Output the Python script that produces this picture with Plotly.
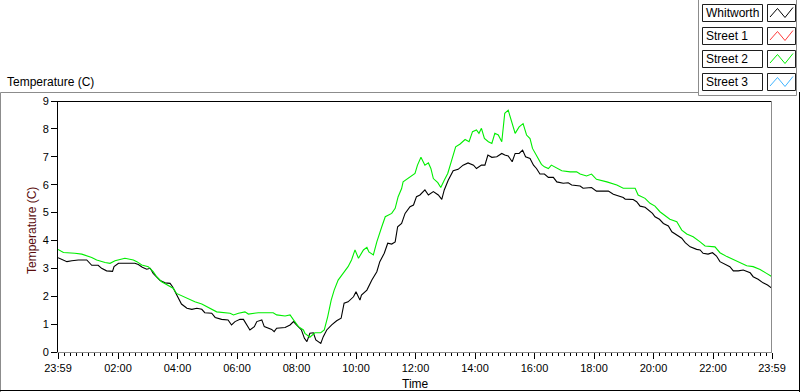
import plotly.graph_objects as go

# ---- data (minutes elapsed since 23:59 of the previous day) ----
whitworth_min = [0,7,18,28,41,58,65,68,81,88,98,110,113,122,139,155,162,170,179,186,192,199,206,216,226,231,236,243,249,260,270,280,290,296,310,317,330,343,350,357,367,374,381,387,396,401,411,416,431,436,441,458,468,475,481,491,497,502,508,515,520,530,535,542,552,562,571,577,585,596,601,609,612,623,633,643,649,658,665,673,680,685,693,700,710,717,723,730,740,747,757,767,774,779,787,797,807,817,827,838,844,854,861,867,875,885,895,901,908,916,922,930,937,943,952,959,965,972,981,989,999,1006,1019,1029,1036,1053,1059,1076,1086,1110,1120,1133,1140,1144,1160,1167,1174,1184,1191,1199,1204,1213,1221,1231,1238,1248,1258,1265,1275,1288,1295,1301,1311,1320,1328,1335,1345,1355,1362,1372,1382,1396,1402,1412,1422,1431,1440]
whitworth_temp = [3.38,3.32,3.24,3.27,3.30,3.30,3.18,3.11,3.11,3.00,2.91,2.89,3.06,3.18,3.18,3.18,3.14,3.04,2.97,3.00,2.82,2.68,2.56,2.48,2.46,2.34,2.16,1.92,1.72,1.57,1.53,1.57,1.53,1.41,1.39,1.24,1.17,1.15,0.97,1.09,1.17,1.17,0.97,0.79,0.91,1.09,1.15,0.91,0.81,0.73,0.85,0.88,0.97,1.09,0.97,0.79,0.49,0.37,0.67,0.69,0.43,0.31,0.55,0.79,0.97,1.12,1.21,1.75,1.80,1.98,2.16,1.86,2.04,2.22,2.58,2.88,3.24,3.54,3.90,3.87,3.95,4.49,4.61,4.97,5.21,5.27,5.57,5.63,5.81,5.63,5.75,5.63,5.47,5.81,6.16,6.50,6.55,6.70,6.78,6.70,6.58,6.70,6.70,7.06,6.98,7.00,7.12,7.06,7.03,6.82,7.12,7.12,7.24,7.00,6.94,6.70,6.58,6.38,6.38,6.26,6.26,6.10,6.05,6.07,5.99,5.95,5.87,5.90,5.77,5.77,5.66,5.57,5.54,5.48,5.47,5.39,5.23,5.19,5.09,4.97,4.85,4.76,4.61,4.52,4.31,4.19,4.08,3.92,3.77,3.68,3.66,3.54,3.51,3.56,3.44,3.24,3.15,3.06,2.91,2.91,2.94,2.84,2.70,2.61,2.48,2.40,2.28]

street2_min = [0,11,34,48,68,78,95,105,115,135,152,159,169,182,192,199,209,222,233,239,249,263,276,290,303,320,347,354,364,377,384,404,434,441,458,468,475,485,495,498,508,518,530,537,544,551,557,565,575,585,592,599,606,616,623,627,636,643,653,660,673,680,686,693,696,706,720,725,732,740,747,752,757,766,772,779,786,793,802,811,821,829,836,844,849,854,860,868,875,881,888,895,901,908,914,922,930,938,945,952,957,965,975,981,989,995,1006,1016,1033,1046,1053,1066,1076,1086,1107,1127,1140,1164,1170,1184,1194,1204,1214,1224,1234,1248,1258,1268,1281,1295,1305,1325,1335,1349,1362,1375,1389,1402,1416,1429,1440]
street2_temp = [3.68,3.57,3.54,3.51,3.39,3.30,3.21,3.18,3.27,3.36,3.30,3.24,3.12,3.06,2.88,2.70,2.52,2.40,2.28,2.10,2.02,1.92,1.80,1.72,1.60,1.44,1.39,1.33,1.39,1.44,1.36,1.41,1.41,1.33,1.29,1.33,1.15,0.91,0.79,0.67,0.53,0.69,0.69,0.79,1.27,1.86,2.22,2.58,2.82,3.06,3.30,3.66,3.36,3.66,3.75,3.59,3.48,3.95,4.49,4.85,4.97,5.15,5.57,5.86,6.10,6.22,6.40,6.70,6.98,6.70,6.78,6.58,6.22,6.07,5.90,6.16,6.40,6.82,7.36,7.46,7.62,7.54,7.90,7.96,7.84,8.02,7.66,7.54,7.48,7.84,7.78,7.54,8.56,8.67,8.32,7.84,8.07,8.19,7.78,7.65,7.30,7.06,6.73,6.64,6.58,6.70,6.58,6.50,6.46,6.46,6.38,6.31,6.38,6.19,6.10,5.99,5.87,5.87,5.63,5.51,5.33,5.23,5.03,4.91,4.76,4.67,4.37,4.23,4.13,3.95,3.80,3.77,3.56,3.42,3.32,3.20,3.09,3.06,2.96,2.82,2.70]

street1_min, street1_temp = [], []
street3_min, street3_temp = [], []

series_names = ["Whitworth", "Street 1", "Street 2", "Street 3"]
series_colors = ["#000000", "#ff3b3b", "#00ee00", "#3fb4ff"]

tick_vals = [0, 121, 241, 361, 481, 601, 721, 841, 961, 1081, 1201, 1321, 1440]
tick_text = ["23:59", "02:00", "04:00", "06:00", "08:00", "10:00", "12:00",
             "14:00", "16:00", "18:00", "20:00", "22:00", "23:59"]
minor_vals = [v for v in range(1, 1440, 12) if v not in tick_vals]
y_ticks = list(range(0, 10))

# ---- layout geometry (pixels) ----
W, H = 800, 392
L, R, T, B = 58, 772, 101, 352
FONT = "Liberation Sans"


def pxx(x):
    return (x - L) / (R - L)


def pxy(y):
    return (B - y) / (B - T)


fig = go.Figure()
data = [(whitworth_min, whitworth_temp), (street1_min, street1_temp),
        (street2_min, street2_temp), (street3_min, street3_temp)]
draw_order = [1, 3, 0, 2]
for i in draw_order:
    xs, ys = data[i]
    fig.add_trace(go.Scatter(x=xs, y=ys, mode="lines", name=series_names[i],
                             line=dict(color=series_colors[i], width=1.1),
                             showlegend=False))

shapes = []


def line(x0, y0, x1, y1, color, w=1):
    shapes.append(dict(type="line", xref="paper", yref="paper",
                       x0=pxx(x0), y0=pxy(y0), x1=pxx(x1), y1=pxy(y1),
                       line=dict(color=color, width=w)))


# plot frame: top black, right gray
line(L, T + 0.5, R, T + 0.5, "#000000")
line(R - 0.5, T, R - 0.5, B, "#8c8c8c")
# outer panel
line(0.5, 92.5, 698.5, 92.5, "#8c8c8c")
line(0.5, 92.5, 0.5, 392, "#8c8c8c")
line(0, 390.5, 800, 390.5, "#000000")
line(799.5, 92, 799.5, 392, "#000000")
# legend frame
line(698.5, 0, 698.5, 95.5, "#8c8c8c")
line(698.5, 95.5, 796.5, 95.5, "#8c8c8c")
line(796.5, 0, 796.5, 95.5, "#8c8c8c")

annotations = []
for i, name in enumerate(series_names):
    y0 = 4 + 23 * i
    y1 = y0 + 17
    shapes.append(dict(type="rect", xref="paper", yref="paper",
                       x0=pxx(702.5), x1=pxx(762.5), y0=pxy(y0 + 0.5), y1=pxy(y1 + 0.5),
                       line=dict(color="#1e1e1e", width=1), fillcolor="white"))
    shapes.append(dict(type="rect", xref="paper", yref="paper",
                       x0=pxx(767.5), x1=pxx(795.5), y0=pxy(y0 + 0.5), y1=pxy(y1 + 0.5),
                       line=dict(color="#1e1e1e", width=1), fillcolor="white"))
    pts = [(770, y0 + 13), (777.5, y0 + 4.5), (785, y0 + 13.5), (793, y0 + 3.5)]
    path = "M " + " L ".join(f"{pxx(a):.5f},{pxy(b):.5f}" for a, b in pts)
    shapes.append(dict(type="path", xref="paper", yref="paper", path=path,
                       line=dict(color=series_colors[i], width=1)))
    annotations.append(dict(text=name, xref="paper", yref="paper",
                            x=pxx(704), y=pxy(y0 + 9), xanchor="left", yanchor="middle",
                            showarrow=False, font=dict(family=FONT, size=12, color="#000000")))

annotations.append(dict(text="Temperature (C)", xref="paper", yref="paper",
                        x=pxx(5), y=pxy(82), xanchor="left", yanchor="middle",
                        showarrow=False, font=dict(family=FONT, size=12, color="#000000")))
annotations.append(dict(text="Temperature (C)", xref="paper", yref="paper",
                        x=pxx(32), y=pxy(231), xanchor="center", yanchor="middle",
                        textangle=-90, showarrow=False,
                        font=dict(family=FONT, size=12, color="#5a0c0c")))
annotations.append(dict(text="Time", xref="paper", yref="paper",
                        x=pxx(415), y=pxy(384), xanchor="center", yanchor="middle",
                        showarrow=False, font=dict(family=FONT, size=12, color="#000000")))

fig.update_layout(
    width=W, height=H,
    margin=dict(l=L, r=W - R, t=T, b=H - B, pad=0),
    paper_bgcolor="white", plot_bgcolor="white",
    shapes=shapes, annotations=annotations,
    xaxis=dict(range=[0, 1440], tickmode="array", tickvals=tick_vals, ticktext=tick_text,
               ticks="outside", ticklen=6, tickwidth=1, tickcolor="#000000",
               showline=True, linecolor="#8c8c8c", linewidth=1,
               showgrid=False, zeroline=False,
               tickfont=dict(family=FONT, size=11, color="#000000"),
               minor=dict(tickmode="array", tickvals=minor_vals, ticks="outside",
                          ticklen=3, tickwidth=1, tickcolor="#000000", showgrid=False)),
    yaxis=dict(range=[0, 9], tickmode="array", tickvals=y_ticks,
               ticks="outside", ticklen=6, tickwidth=1, tickcolor="#000000",
               showline=True, linecolor="#000000", linewidth=1,
               showgrid=False, zeroline=False,
               tickfont=dict(family=FONT, size=11, color="#000000")),
    showlegend=False,
)

fig.write_html("out.html", config={"displayModeBar": False},
               post_script="document.body.style.margin='0';document.body.style.overflow='hidden';")
